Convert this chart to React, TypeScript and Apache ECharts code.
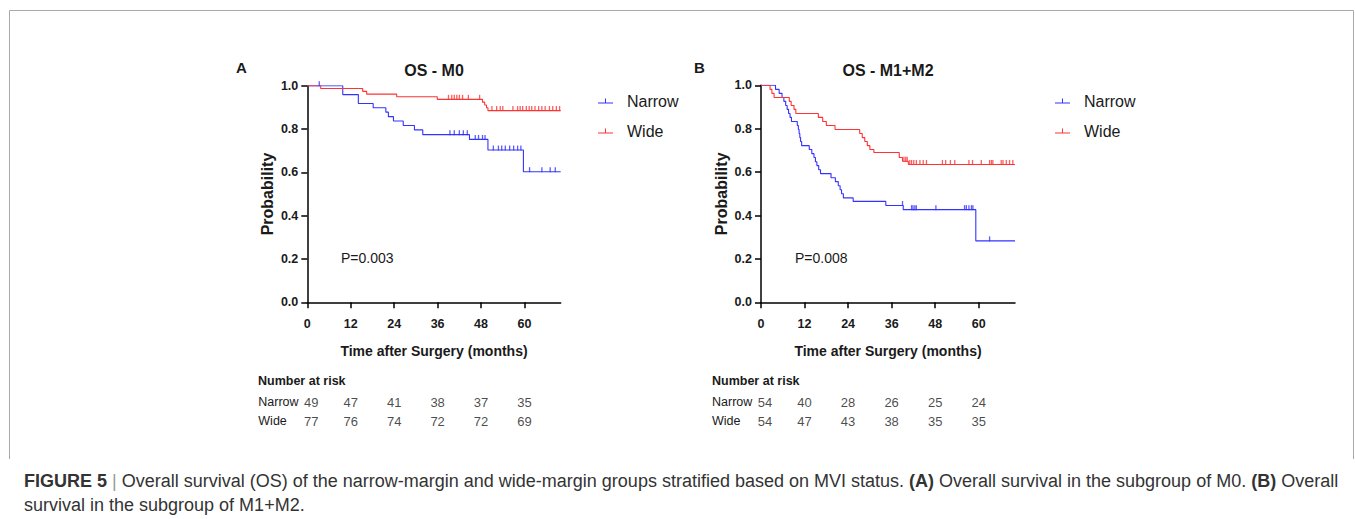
import React, { useEffect, useRef } from 'react';
import * as echarts from 'echarts';

const FONT = "'Liberation Sans', Arial, Helvetica, sans-serif";
const BLUE = '#3333ff';
const RED = '#ff3333';
const INK = '#1a1a1a';

const X_TICKS = [0, 12, 24, 36, 48, 60];
const GROUPS = ['Narrow', 'Wide'];

// Panel A (M0)
const A_NARROW_TIME = [0, 9.8, 14.1, 18.2, 21.7, 22.4, 23.8, 26.5, 29.6, 31.9, 44.8, 49.9, 59.7, 70];
const A_NARROW_SURV = [1.0, 0.959, 0.918, 0.898, 0.878, 0.857, 0.837, 0.816, 0.796, 0.774, 0.752, 0.703, 0.603, 0.603];
const A_NARROW_CENSOR = [3.3, 39.4, 40.6, 42.0, 43.1, 44.2, 46.4, 47.3, 48.4, 49.1, 51.4, 52.8, 53.7, 54.7, 55.9, 57.0, 58.1, 59.0, 61.4, 64.8, 67.1, 68.5];
const A_WIDE_TIME = [0, 3.7, 15.3, 16.4, 24.7, 35.9, 48.4, 49.0, 49.5, 49.9, 70];
const A_WIDE_SURV = [1.0, 0.987, 0.974, 0.961, 0.949, 0.937, 0.924, 0.911, 0.898, 0.885, 0.885];
const A_WIDE_CENSOR = [39.0, 39.9, 40.6, 41.3, 42.0, 42.9, 44.5, 47.6, 51.0, 52.3, 53.3, 54.0, 56.8, 58.1, 58.8, 59.5, 60.5, 61.3, 62.0, 62.9, 63.9, 64.8, 65.7, 66.9, 67.8, 68.8, 69.7];
const A_RISK_NARROW = [49, 47, 41, 38, 37, 35];
const A_RISK_WIDE = [77, 76, 74, 72, 72, 69];

// Panel B (M1+M2)
const B_NARROW_TIME = [0, 4.0, 5.0, 5.8, 6.3, 6.8, 7.2, 7.6, 8.0, 8.4, 10.0, 10.3, 10.5, 10.7, 10.9, 11.2, 13.3, 14.0, 14.6, 15.0, 15.4, 15.9, 16.4, 19.3, 20.5, 21.3, 21.8, 22.2, 22.7, 25.4, 34.4, 39.2, 59.2, 70];
const B_NARROW_SURV = [1.0, 0.981, 0.963, 0.944, 0.926, 0.907, 0.889, 0.870, 0.852, 0.833, 0.815, 0.796, 0.778, 0.759, 0.741, 0.722, 0.704, 0.685, 0.667, 0.648, 0.630, 0.611, 0.593, 0.574, 0.556, 0.537, 0.519, 0.500, 0.481, 0.465, 0.446, 0.427, 0.283, 0.283];
const B_NARROW_CENSOR = [39.0, 41.5, 41.9, 42.4, 42.8, 48.2, 56.1, 56.6, 57.3, 58.0, 58.4, 63.0];
const B_WIDE_TIME = [0, 2.5, 3.0, 3.6, 7.8, 8.3, 9.1, 9.6, 15.8, 17.0, 18.0, 20.4, 27.2, 27.9, 28.6, 29.3, 30.0, 31.1, 38.1, 39.0, 40.6, 70];
const B_WIDE_SURV = [1.0, 0.981, 0.963, 0.944, 0.926, 0.907, 0.889, 0.870, 0.852, 0.833, 0.815, 0.796, 0.778, 0.759, 0.741, 0.722, 0.704, 0.690, 0.667, 0.650, 0.635, 0.635];
const B_WIDE_CENSOR = [39.4, 39.9, 40.3, 41.0, 41.5, 42.1, 42.8, 43.8, 44.7, 45.6, 50.0, 50.9, 52.2, 53.4, 57.3, 58.3, 60.7, 63.0, 63.5, 63.9, 66.2, 66.7, 67.6, 68.5, 69.4];
const B_RISK_NARROW = [54, 40, 28, 26, 25, 24];
const B_RISK_WIDE = [54, 47, 43, 38, 35, 35];

const CAPTION_1 = '{b|FIGURE 5} {s||} Overall survival (OS) of the narrow-margin and wide-margin groups stratified based on MVI status. {b|(A)} Overall survival in the subgroup of M0. {b|(B)} Overall';
const CAPTION_2 = 'survival in the subgroup of M1+M2.';

const LEGEND_ICON = 'path://M0,4H15V5H0Z M7,0H8V4H7Z';

function survAt(times: number[], surv: number[], t: number) {
  let s = surv[0];
  for (let i = 0; i < times.length; i++) if (times[i] <= t) s = surv[i];
  return s;
}

function pairs(times: number[], surv: number[]) {
  return times.map((t, i) => [t, surv[i]]);
}

function censorData(times: number[], surv: number[], cens: number[]) {
  return cens.map((t) => [t, survAt(times, surv, t)]);
}

function plotAxes(grid: number) {
  const x = {
    gridIndex: grid,
    type: 'value',
    min: 0,
    max: 70,
    interval: 12,
    axisLine: { show: true, onZero: false, lineStyle: { color: '#000', width: 1.5 } },
    axisTick: { show: true, length: 6, lineStyle: { color: '#000', width: 1.5 }, customValues: X_TICKS },
    axisLabel: { customValues: X_TICKS, fontFamily: FONT, fontWeight: 'bold', fontSize: 12.5, color: INK, margin: 15 },
    splitLine: { show: false },
    name: 'Time after Surgery (months)',
    nameLocation: 'middle',
    nameGap: 42,
    nameTextStyle: { fontFamily: FONT, fontWeight: 'bold', fontSize: 14, color: INK },
  };
  const y = {
    gridIndex: grid,
    type: 'value',
    min: 0,
    max: 1,
    interval: 0.2,
    axisLine: { show: true, onZero: false, lineStyle: { color: '#000', width: 1.5 } },
    axisTick: { show: true, length: 6, lineStyle: { color: '#000', width: 1.5 } },
    axisLabel: { formatter: (v: number) => v.toFixed(1), fontFamily: FONT, fontWeight: 'bold', fontSize: 12.5, color: INK, margin: 9 },
    splitLine: { show: false },
    name: 'Probability',
    nameLocation: 'middle',
    nameGap: 32,
    nameRotate: 90,
    nameTextStyle: { fontFamily: FONT, fontWeight: 'bold', fontSize: 16, color: INK },
  };
  return { x, y };
}

function riskAxes(grid: number) {
  const x = { gridIndex: grid, type: 'value', min: 0, max: 70, show: false };
  const y = {
    gridIndex: grid,
    type: 'category',
    data: GROUPS,
    inverse: true,
    axisLine: { show: false },
    axisTick: { show: false },
    splitLine: { show: false },
    axisLabel: { align: 'left', margin: 49, fontFamily: FONT, fontSize: 12.5, color: INK },
  };
  return { x, y };
}

function kmSeries(axisIdx: number, name: string, color: string, times: number[], surv: number[], cens: number[]) {
  return [
    {
      type: 'line',
      name,
      xAxisIndex: axisIdx,
      yAxisIndex: axisIdx,
      step: 'end',
      symbol: 'none',
      color,
      lineStyle: { color, width: 1.1 },
      data: pairs(times, surv),
      z: 3,
    },
    {
      type: 'scatter',
      name: name + ' censored',
      xAxisIndex: axisIdx,
      yAxisIndex: axisIdx,
      symbol: 'rect',
      symbolSize: [1.3, 5],
      symbolOffset: [0, -2],
      itemStyle: { color },
      data: censorData(times, surv, cens),
      z: 4,
    },
  ];
}

function riskSeries(axisIdx: number, narrow: number[], wide: number[]) {
  const item = (t: number, g: string, v: number, i: number) =>
    i === 0 ? { value: [t, g, v], label: { offset: [4, 0] } } : [t, g, v];
  const data = [
    ...X_TICKS.map((t, i) => item(t, 'Narrow', narrow[i], i)),
    ...X_TICKS.map((t, i) => item(t, 'Wide', wide[i], i)),
  ];
  return {
    type: 'scatter',
    name: 'Number at risk',
    xAxisIndex: axisIdx,
    yAxisIndex: axisIdx,
    symbolSize: 1,
    itemStyle: { color: 'rgba(0,0,0,0)' },
    data,
    label: {
      show: true,
      position: 'inside',
      formatter: (p: any) => String(p.value[2]),
      fontFamily: FONT,
      fontSize: 13,
      color: INK,
    },
  };
}

function legendFor(left: number) {
  return {
    orient: 'vertical',
    left,
    top: 88,
    itemWidth: 15,
    itemHeight: 5,
    itemGap: 14,
    textStyle: { fontFamily: FONT, fontSize: 16, color: INK, padding: [0, 0, 0, 9] },
    data: [
      { name: 'Narrow', icon: LEGEND_ICON },
      { name: 'Wide', icon: LEGEND_ICON },
    ],
  };
}

function txt(x: number, y: number, text: string, font: any, align = 'left') {
  return {
    type: 'text',
    x,
    y,
    style: {
      text,
      fill: INK,
      fontFamily: FONT,
      align,
      verticalAlign: 'middle',
      ...font,
    },
  };
}

export default function App() {
  const ref = useRef<HTMLDivElement>(null);

  useEffect(() => {
    if (!ref.current) return;
    const chart = echarts.init(ref.current, undefined, { renderer: 'svg' });
    const pA = plotAxes(0);
    const pB = plotAxes(1);
    const rA = riskAxes(2);
    const rB = riskAxes(3);
    const CAP = 18;

    const option: any = {
      animation: false,
      backgroundColor: '#ffffff',
      textStyle: { fontFamily: FONT },
      grid: [
        { left: 307.3, top: 85.7, width: 253.4, height: 216.6 },
        { left: 761, top: 85.3, width: 254, height: 217 },
        { left: 307.3, top: 392.5, width: 253.4, height: 38 },
        { left: 761, top: 392.5, width: 254, height: 38 },
      ],
      xAxis: [pA.x, pB.x, rA.x, rB.x],
      yAxis: [pA.y, pB.y, rA.y, rB.y],
      legend: [legendFor(593), legendFor(1050)],
      series: [
        ...kmSeries(0, 'Narrow', BLUE, A_NARROW_TIME, A_NARROW_SURV, A_NARROW_CENSOR),
        ...kmSeries(0, 'Wide', RED, A_WIDE_TIME, A_WIDE_SURV, A_WIDE_CENSOR),
        ...kmSeries(1, 'Narrow', BLUE, B_NARROW_TIME, B_NARROW_SURV, B_NARROW_CENSOR),
        ...kmSeries(1, 'Wide', RED, B_WIDE_TIME, B_WIDE_SURV, B_WIDE_CENSOR),
        riskSeries(2, A_RISK_NARROW, A_RISK_WIDE),
        riskSeries(3, B_RISK_NARROW, B_RISK_WIDE),
      ],
      graphic: [
        {
          type: 'polyline',
          shape: { points: [[9.5, 459], [9.5, 10.5], [1353.5, 10.5], [1353.5, 459]] },
          style: { stroke: '#a9a9a9', lineWidth: 1, fill: null },
        },
        txt(236, 67, 'A', { fontWeight: 'bold', fontSize: 15 }),
        txt(694, 67, 'B', { fontWeight: 'bold', fontSize: 15 }),
        txt(434, 70, 'OS - M0', { fontWeight: 'bold', fontSize: 16 }, 'center'),
        txt(888, 70, 'OS - M1+M2', { fontWeight: 'bold', fontSize: 16 }, 'center'),
        txt(341, 258, 'P=0.003', { fontSize: 14 }),
        txt(795, 258, 'P=0.008', { fontSize: 14 }),
        txt(258, 381, 'Number at risk', { fontWeight: 'bold', fontSize: 12.5 }),
        txt(712, 381, 'Number at risk', { fontWeight: 'bold', fontSize: 12.5 }),
        {
          type: 'text',
          x: 24,
          y: 481,
          style: {
            text: CAPTION_1,
            fill: '#333',
            fontFamily: FONT,
            fontSize: CAP,
            verticalAlign: 'middle',
            rich: {
              b: { fontWeight: 'bold', fill: '#333', fontFamily: FONT, fontSize: CAP },
              s: { fill: '#999', fontFamily: FONT, fontSize: CAP },
            },
          },
        },
        txt(24, 505, CAPTION_2, { fontSize: CAP, fill: '#333' }),
      ],
    };
    chart.setOption(option);
    return () => chart.dispose();
  }, []);

  return (
    <div
      ref={ref}
      style={{ position: 'fixed', left: 0, top: 0, width: 1355, height: 519, background: '#fff' }}
    />
  );
}
